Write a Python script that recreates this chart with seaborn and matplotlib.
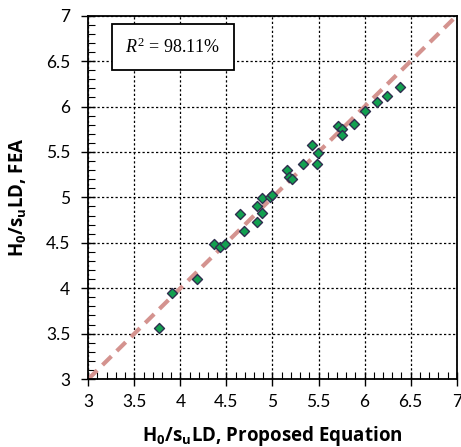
import matplotlib
matplotlib.use("Agg")
import matplotlib.pyplot as plt
import seaborn as sns
import pandas as pd
import numpy as np
from matplotlib.ticker import MultipleLocator

# Data
proposed = [3.767, 3.908, 4.180, 4.363, 4.425, 4.479, 4.645, 4.692, 4.837, 4.837,
            4.890, 4.884, 4.970, 4.996, 5.158, 5.177, 5.209, 5.332, 5.426, 5.491,
            5.484, 5.708, 5.752, 5.752, 5.889, 6.004, 6.139, 6.240, 6.381]
fea = [3.565, 3.944, 4.100, 4.483, 4.454, 4.490, 4.814, 4.630, 4.905, 4.726,
       4.828, 4.997, 5.008, 5.030, 5.298, 5.221, 5.199, 5.364, 5.577, 5.492,
       5.371, 5.786, 5.757, 5.690, 5.808, 5.955, 6.051, 6.120, 6.212]
line_x = [3, 7]
line_y = [3, 7]
ticks = [3, 3.5, 4, 4.5, 5, 5.5, 6, 6.5, 7]
tick_labels = ["3", "3.5", "4", "4.5", "5", "5.5", "6", "6.5", "7"]
r2_text = "98.11%"

sns.set_theme(style="white")
plt.rcParams['font.family'] = ['Lato', 'DejaVu Sans']
plt.rcParams['mathtext.fontset'] = 'custom'
plt.rcParams['mathtext.rm'] = 'Liberation Serif'
plt.rcParams['mathtext.it'] = 'Liberation Serif:italic'
plt.rcParams['mathtext.bf'] = 'Open Sans:bold'

fig = plt.figure(figsize=(4.61, 4.47), dpi=100)
ax = fig.add_axes([0.1915, 0.152, 0.7992, 0.8128])

df = pd.DataFrame({"proposed": proposed, "fea": fea})
sns.lineplot(x=line_x, y=line_y, ax=ax, color="#d4938f", linewidth=3,
             linestyle=(0, (3, 1.8)), zorder=2)
sns.scatterplot(data=df, x="proposed", y="fea", ax=ax, marker="D", s=26,
                color="#12a050", edgecolor="#2e2e4e", linewidth=1.0, zorder=3)

ax.set_xlim(3, 7)
ax.set_ylim(3, 7)
ax.set_xticks(ticks)
ax.set_xticklabels(tick_labels)
ax.set_yticks(ticks)
ax.set_yticklabels(tick_labels)
ax.xaxis.set_minor_locator(MultipleLocator(0.1))
ax.yaxis.set_minor_locator(MultipleLocator(0.1))
ax.tick_params(which="major", direction="inout", length=10, width=1, color="black",
               labelsize=12.5, labelcolor="black", bottom=True, left=True, top=False, right=False)
ax.tick_params(axis="x", which="major", pad=6)
ax.tick_params(axis="y", which="major", pad=8)
ax.tick_params(which="minor", direction="in", length=5, width=0.8, color="black",
               bottom=True, left=True, top=False, right=False)
ax.grid(True, which="major", color="black", linestyle=(0, (1.8, 1.8)), linewidth=0.9)
for s in ax.spines.values():
    s.set_color("black")
    s.set_linewidth(1.3)

lab_font = dict(fontsize=13.5, fontweight="bold", color="black", family=["Open Sans", "DejaVu Sans"])
ax.set_xlabel(r"$\mathbf{H_0}$/$\mathbf{s_u}$LD, Proposed Equation", labelpad=10, **lab_font)
ax.set_ylabel(r"$\mathbf{H_0}$/$\mathbf{s_u}$LD, FEA", labelpad=12, **lab_font)

ax.text(3.92, 6.655, r"$R^2$ = " + r2_text, fontsize=13, family="Liberation Serif",
        ha="center", va="center", color="black", zorder=5,
        bbox=dict(boxstyle="square,pad=0.72", facecolor="white", edgecolor="black", linewidth=1.3))

fig.savefig("out.png", dpi=100)
